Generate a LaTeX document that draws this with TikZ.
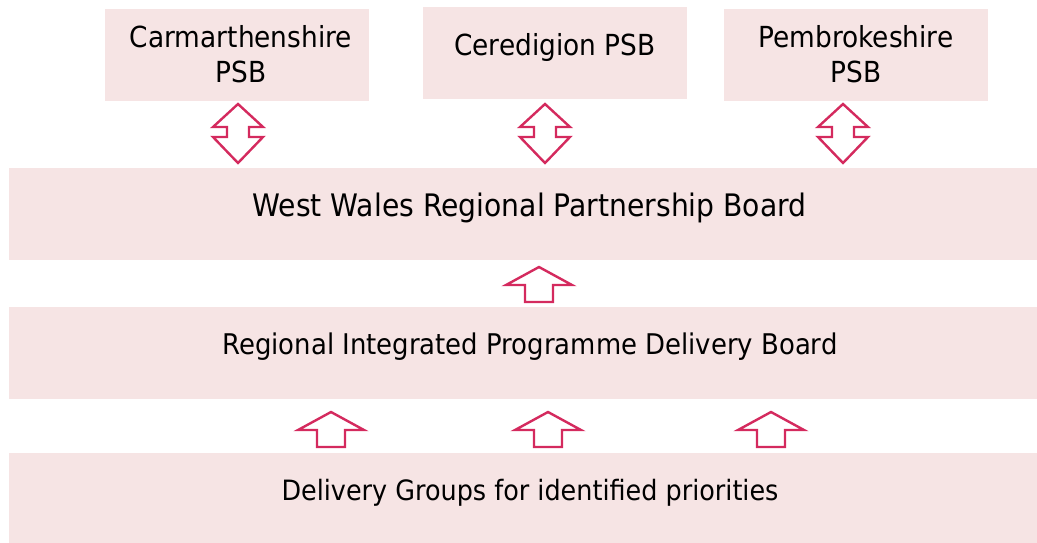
\documentclass[tikz,border=0pt]{standalone}
\usepackage{fontspec}
\setmainfont[FakeStretch=0.91]{DejaVu Sans}
\definecolor{boxfill}{HTML}{F6E4E4}
\definecolor{arrowred}{HTML}{D42A5E}
\begin{document}
\begin{tikzpicture}[x=1pt,y=-1pt,
  box/.style={fill=boxfill,draw=none,inner sep=0pt},
  topbox/.style={box,minimum width=264pt,minimum height=92pt},
  widebox/.style={box,minimum width=1028pt},
  label/.style={inner sep=0pt,align=center,text=black},
  toplabel/.style={label,font=\fontsize{29}{35}\selectfont},
  arrowline/.style={draw=arrowred,line width=2.4pt,fill=white,line join=miter}]
\useasboundingbox (0,0) rectangle (1037,543);
\node[topbox] (carm) at (237,55) {};
\node[topbox] (cere) at (555,53) {};
\node[topbox] (pemb) at (856,55) {};
\node[widebox,minimum height=92pt] (rpb) at (523,214) {};
\node[widebox,minimum height=92pt] (ripdb) at (523,353) {};
\node[widebox,minimum height=90pt] (deliv) at (523,498) {};
\node[toplabel] (carmt) at ([xshift=4pt,yshift=0.5pt]carm) {Carmarthenshire\\PSB};
\node[toplabel] (beret) at ([yshift=6pt]cere) {Ceredigion PSB};
\node[toplabel] (pembt) at ([yshift=0.5pt]pemb) {Pembrokeshire\\PSB};
\node[label,font=\fontsize{31}{36}\selectfont] (rpbt) at ([xshift=6.5pt,yshift=6pt]rpb) {West Wales Regional Partnership Board};
\node[label,font=\fontsize{28.5}{34}\selectfont] (ripdbt) at ([xshift=7pt,yshift=6pt]ripdb) {Regional Integrated Programme Delivery Board};
\node[label,font=\fontsize{28}{34}\selectfont] (delivt) at ([xshift=7pt,yshift=5pt]deliv) {Delivery Groups for identified priorities};
% double arrows between PSBs and RPB
\foreach \cx in {238,545,843}{
  \draw[arrowline] (\cx,104) -- (\cx-25,127) -- (\cx-11,127) -- (\cx-11,137) -- (\cx-25,137) -- (\cx,163) -- (\cx+25,137) -- (\cx+11,137) -- (\cx+11,127) -- (\cx+25,127) -- cycle;
}
% upward arrows
\foreach \cx/\ty in {539/267,331/412,548/412,771/412}{
  \draw[arrowline] (\cx,\ty) -- (\cx-33,\ty+18) -- (\cx-14,\ty+18) -- (\cx-14,\ty+35) -- (\cx+14,\ty+35) -- (\cx+14,\ty+18) -- (\cx+33,\ty+18) -- cycle;
}
\end{tikzpicture}
\end{document}
